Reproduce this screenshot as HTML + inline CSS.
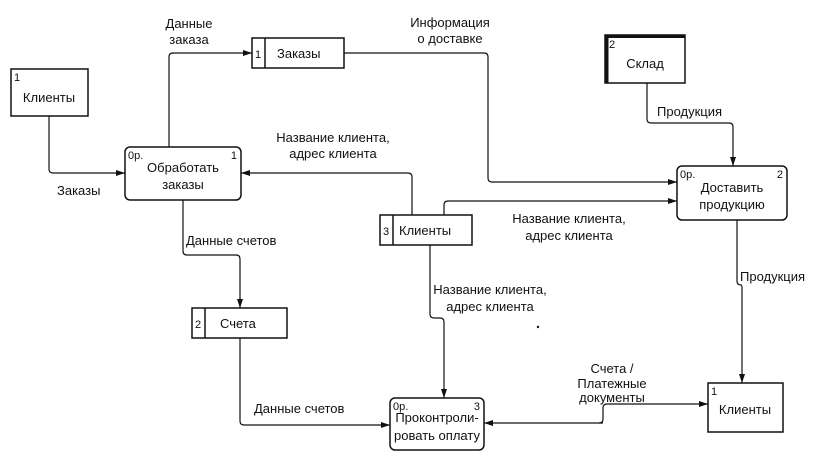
<!DOCTYPE html>
<html><head><meta charset="utf-8"><style>
html,body{margin:0;padding:0;background:#fff}
svg{display:block}
text{font-family:"Liberation Sans",Arial,sans-serif;font-size:13px;fill:#111}
.s{font-size:11px}
</style></head><body>
<svg width="820" height="462" viewBox="0 0 820 462" xmlns="http://www.w3.org/2000/svg">
<defs><marker id="a" markerWidth="10" markerHeight="8" refX="9" refY="4" orient="auto" markerUnits="userSpaceOnUse"><path d="M0,1 L9,4 L0,7 Z" fill="#111"/></marker></defs>
<g fill="none" stroke="#111" stroke-width="1.5">
<rect x="11" y="69" width="77" height="47"/>
<rect x="125" y="147" width="116" height="53" rx="5"/>
<rect x="252" y="38" width="92" height="30"/><line x1="265" y1="38" x2="265" y2="68"/>
<rect x="605" y="35" width="80" height="48"/>
<line x1="606.5" y1="35" x2="606.5" y2="83" stroke-width="4"/><line x1="605" y1="36.5" x2="685" y2="36.5" stroke-width="3"/>
<rect x="677" y="166" width="110" height="54" rx="5"/>
<rect x="380" y="215" width="92" height="30"/><line x1="393" y1="215" x2="393" y2="245"/>
<rect x="192" y="308" width="95" height="30"/><line x1="205" y1="308" x2="205" y2="338"/>
<rect x="390" y="398" width="94" height="52" rx="5"/>
<rect x="708" y="383" width="75" height="49"/>
</g>
<g fill="none" stroke="#111" stroke-width="1.2">
<path d="M49,116 V169 Q49,173 53,173 H125" marker-end="url(#a)"/>
<path d="M169,147 V57 Q169,53 173,53 H252" marker-end="url(#a)"/>
<path d="M344,53 H484 Q488,53 488,57 V178 Q488,182 492,182 H677" marker-end="url(#a)"/>
<path d="M647,83 V119 Q647,123 651,123 H729 Q733,123 733,127 V166" marker-end="url(#a)"/>
<path d="M444,215 V205 Q444,201 448,201 H677" marker-end="url(#a)"/>
<path d="M412,215 V177 Q412,173 408,173 H241" marker-end="url(#a)"/>
<path d="M430,245 V314 Q430,318 434,318 H440 Q444,318 444,322 V398" marker-end="url(#a)"/>
<path d="M183,200 V251 Q183,255 187,255 H236 Q240,255 240,259 V308" marker-end="url(#a)"/>
<path d="M240,338 V421 Q240,425 244,425 H390" marker-end="url(#a)"/>
<path d="M737,220 V281 Q737,285 741,285 Q742,285 742,289 V383" marker-end="url(#a)"/>
<path d="M603,423 H484" marker-end="url(#a)"/>
<path d="M599,423 Q603,423 603,419 V408 Q603,404 607,404 H708" marker-end="url(#a)"/>
</g>
<circle cx="538" cy="327" r="1.2" fill="#111"/>
<text x="14" y="81" class="s">1</text>
<text x="49" y="102" text-anchor="middle">Клиенты</text>
<text x="128" y="159" class="s">0р.</text><text x="237" y="159" class="s" text-anchor="end">1</text>
<text x="183" y="172" text-anchor="middle">Обработать</text><text x="183" y="189" text-anchor="middle">заказы</text>
<text x="255" y="58" class="s">1</text><text x="277" y="58">Заказы</text>
<text x="609" y="48" class="s">2</text><text x="645" y="68" text-anchor="middle">Склад</text>
<text x="680" y="178" class="s">0р.</text><text x="783" y="178" class="s" text-anchor="end">2</text>
<text x="732" y="192" text-anchor="middle">Доставить</text><text x="732" y="209" text-anchor="middle">продукцию</text>
<text x="383" y="235" class="s">3</text><text x="399" y="235">Клиенты</text>
<text x="195" y="328" class="s">2</text><text x="220" y="328">Счета</text>
<text x="393" y="410" class="s">0р.</text><text x="480" y="410" class="s" text-anchor="end">3</text>
<text x="437" y="422" text-anchor="middle">Проконтроли-</text><text x="437" y="440" text-anchor="middle">ровать оплату</text>
<text x="711" y="395" class="s">1</text><text x="745" y="414" text-anchor="middle">Клиенты</text>
<text x="189" y="28" text-anchor="middle">Данные</text><text x="189" y="44" text-anchor="middle">заказа</text>
<text x="450" y="27" text-anchor="middle">Информация</text><text x="450" y="43" text-anchor="middle">о доставке</text>
<text x="57" y="195">Заказы</text>
<text x="333" y="142" text-anchor="middle">Название клиента,</text><text x="333" y="158" text-anchor="middle">адрес клиента</text>
<text x="657" y="116">Продукция</text>
<text x="569" y="223" text-anchor="middle">Название клиента,</text><text x="569" y="240" text-anchor="middle">адрес клиента</text>
<text x="186" y="245">Данные счетов</text>
<text x="490" y="294" text-anchor="middle">Название клиента,</text><text x="490" y="311" text-anchor="middle">адрес клиента</text>
<text x="740" y="281">Продукция</text>
<text x="612" y="373" text-anchor="middle">Счета /</text><text x="612" y="388" text-anchor="middle">Платежные</text><text x="612" y="402" text-anchor="middle">документы</text>
<text x="254" y="413">Данные счетов</text>
</svg>
</body></html>
